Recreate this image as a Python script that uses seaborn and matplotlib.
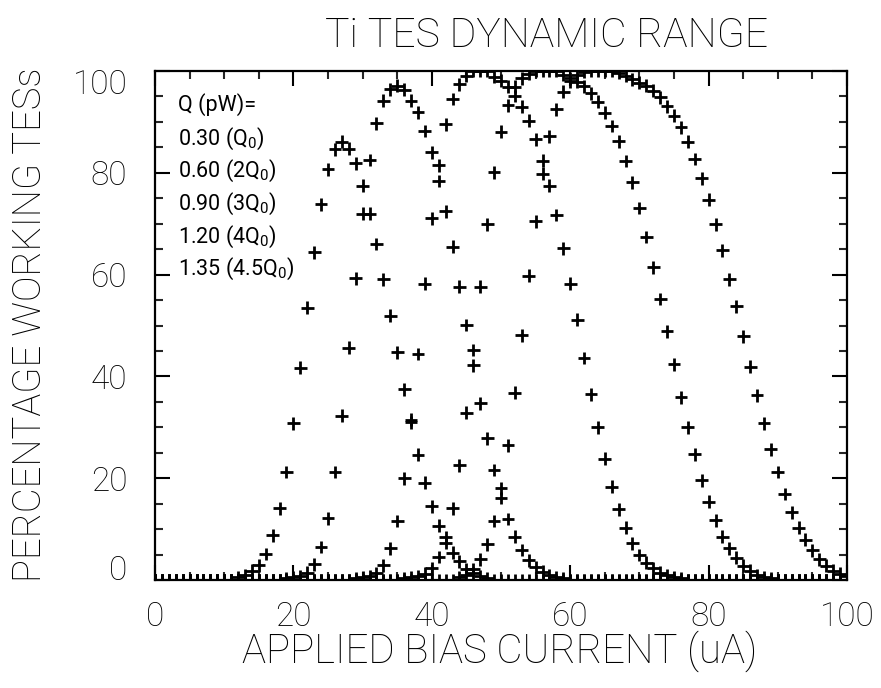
import numpy as np
import pandas as pd
import matplotlib
matplotlib.use("Agg")
import matplotlib.pyplot as plt
import matplotlib.transforms as mtransforms
import seaborn as sns

# ---------------- data ----------------
bias_current = list(range(0, 101))  # uA, 1 uA sampling

pct_q0 = [0.0] * 12 + [0.5, 1.0, 1.8, 2.9, 5.1, 8.8, 14.1, 21.2, 30.8, 41.7, 53.5, 64.4, 73.8,
                       80.7, 84.6, 86.1, 84.7, 81.9, 77.5, 72.0, 66.0, 59.1, 51.9, 44.7, 37.5,
                       31.0, 24.6, 19.1, 14.5, 10.7, 7.3, 5.4, 3.7, 2.1, 1.3, 0.8, 0.4] + [0.0] * 52
pct_2q0 = [0.0] * 19 + [0.4, 0.6, 0.8, 1.4, 3.1, 6.5, 12.1, 21.2, 32.3, 45.6, 59.3, 72.0, 82.5,
                        89.7, 94.2, 96.4, 97.1, 96.3, 94.2, 91.9, 88.2, 84.0, 78.4, 72.4, 65.5,
                        57.6, 50.1, 42.2, 34.7, 27.8, 21.6, 16.1, 12.0, 8.5, 5.9, 3.9, 2.5, 1.6,
                        1.0, 0.6, 0.3] + [0.0] * 41
pct_3q0 = [0.0] * 29 + [0.3, 0.5, 0.8, 1.3, 2.9, 6.2, 11.6, 20.0, 31.5, 44.4, 58.2, 71.1, 81.5,
                        89.5, 94.5, 97.4, 99.0, 100.0, 100.0, 100.0, 98.9, 98.1, 96.9, 95.1, 93.0,
                        90.2, 86.6, 82.4, 77.5, 71.7, 65.2, 58.2, 51.1, 43.6, 36.5, 30.0, 23.8,
                        18.3, 13.9, 10.3, 7.2, 4.9, 3.4, 2.3, 1.4, 1.0, 0.6, 0.3] + [0.0] * 24
pct_4q0 = [0.0] * 36 + [0.3, 0.5, 0.8, 1.2, 2.3, 4.5, 8.4, 14.1, 22.5, 32.9, 45.2, 57.6, 69.9,
                        80.1, 88.1, 93.3, 96.9, 98.6, 99.5, 100.0, 100.0, 100.0, 100.0, 99.2, 98.6,
                        97.9, 97.0, 95.6, 94.0, 91.8, 89.2, 86.2, 82.3, 78.1, 73.1, 67.4, 61.4,
                        55.2, 48.9, 42.4, 35.9, 30.0, 24.7, 19.6, 15.4, 11.7, 8.5, 6.2, 4.4, 2.8,
                        1.8, 1.0, 0.6, 0.3] + [0.0] * 11
pct_45q0 = [0.0] * 44 + [0.5, 1.0, 2.1, 4.1, 7.0, 11.6, 18.0, 26.5, 36.8, 48.1, 59.8, 70.5, 79.8,
                         87.2, 92.5, 95.9, 98.0, 99.2, 99.8, 100.0, 100.0, 100.0, 100.0, 99.6, 99.0,
                         98.4, 97.7, 97.1, 96.1, 94.8, 93.1, 91.2, 88.9, 86.1, 82.7, 78.9, 74.7,
                         69.9, 64.8, 59.1, 53.8, 47.9, 41.9, 36.3, 30.8, 25.7, 21.2, 16.9, 13.3,
                         10.3, 7.9, 5.8, 4.1, 2.8, 1.8, 1.2, 0.7]

legend_lines = ["Q (pW)=", "0.30 (Q$_0$)", "0.60 (2Q$_0$)", "0.90 (3Q$_0$)",
                "1.20 (4Q$_0$)", "1.35 (4.5Q$_0$)"]
x_ticks = [0, 20, 40, 60, 80, 100]
y_ticks = [0, 20, 40, 60, 80, 100]

# ---------------- frame ----------------
curves = {"Q0": pct_q0, "2Q0": pct_2q0, "3Q0": pct_3q0, "4Q0": pct_4q0, "4.5Q0": pct_45q0}
frames = []
for name, vals in curves.items():
    frames.append(pd.DataFrame({"bias": bias_current, "pct": vals, "curve": name}))
df = pd.concat(frames, ignore_index=True)

sns.set_theme(style="ticks")
fam = "Roboto"
plt.rcParams["font.family"] = [fam, "DejaVu Sans"]
plt.rcParams["font.weight"] = "normal"
plt.rcParams["mathtext.fontset"] = "custom"
plt.rcParams["mathtext.rm"] = fam
plt.rcParams["mathtext.it"] = fam

fig = plt.figure(figsize=(8.81, 6.88), dpi=100)
fig.patch.set_facecolor("white")
ax = fig.add_axes([155 / 881, 1 - 580 / 688, (847 - 155) / 881, (580 - 71) / 688])

sns.scatterplot(data=df, x="bias", y="pct", hue="curve", palette=["black"] * 5,
                marker="+", s=85, linewidth=2.0, legend=False, ax=ax, zorder=3)

ax.set_xlim(0, 100)
ax.set_ylim(0, 100)
ax.set_xticks(x_ticks)
ax.set_yticks(y_ticks)
ax.set_xticks(list(range(0, 101, 5)), minor=True)
ax.set_yticks(list(range(0, 101, 5)), minor=True)
ax.set_xticklabels([str(v) for v in x_ticks])
ax.set_yticklabels([str(v) for v in y_ticks])
ax.tick_params(axis="both", which="major", direction="in", length=11, width=1.5,
               top=True, right=True, labelsize=24, colors="black", pad=20)
ax.tick_params(axis="both", which="minor", direction="in", length=6, width=1.5,
               top=True, right=True)
ax.tick_params(axis="x", which="major", pad=15)
for lab in ax.get_xticklabels() + ax.get_yticklabels():
    lab.set_fontweight("light")
for sp in ax.spines.values():
    sp.set_linewidth(1.6)
    sp.set_color("black")
ax.set_xlabel("")
ax.set_ylabel("")
ax.set_facecolor("white")

# IDL style: the end labels of the y axis sit a little inside the axis range
ylabels = ax.get_yticklabels()
ylabels[0].set_transform(ylabels[0].get_transform() +
                         mtransforms.ScaledTranslation(0, 12 / 100, fig.dpi_scale_trans))
ylabels[-1].set_transform(ylabels[-1].get_transform() +
                          mtransforms.ScaledTranslation(0, -11 / 100, fig.dpi_scale_trans))

fig.text(547 / 881, 1 - 36 / 688, "Ti TES DYNAMIC RANGE", ha="center", va="center",
         fontsize=29.5, color="black", fontweight="light")
fig.text(500 / 881, 1 - 651 / 688, "APPLIED BIAS CURRENT (uA)", ha="center", va="center",
         fontsize=29, color="black", fontweight="light")
fig.text(30 / 881, 1 - 325 / 688, "PERCENTAGE WORKING TESs", ha="center", va="center",
         rotation=90, fontsize=27.5, color="black", fontweight="light")

legend_y = [105, 139, 171, 204, 237, 269]
for txt, yp in zip(legend_lines, legend_y):
    fig.text(178 / 881, 1 - yp / 688, txt, ha="left", va="center", fontsize=15.5,
             color="black", fontweight="normal")

fig.savefig("out.png", dpi=100, facecolor="white")
